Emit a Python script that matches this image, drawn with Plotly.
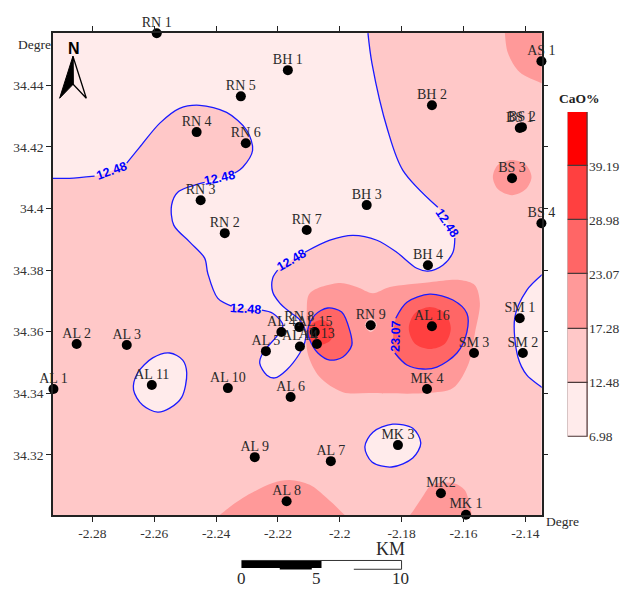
import plotly.graph_objects as go

# ---------- stations ----------
station_names = ["RN 1","AS 1","BH 1","RN 5","BH 2","RN 4","RN 6","BS 1","BS 2","BS 3","RN 3","BH 3","BS 4","RN 2","RN 7","BH 4",
                 "SM 1","AL 2","AL 3","RN 8","AL 4","AL 15","AL 16","RN 9","AL 13","AL 14","AL 5","SM 3","SM 2","AL 11","AL 1",
                 "AL 10","MK 4","AL 6","MK 3","AL 9","AL 7","MK2","AL 8","MK 1"]
station_lon = [-2.2592,-2.1348,-2.2168,-2.2320,-2.1702,-2.2463,-2.2304,-2.1418,-2.1411,-2.1443,-2.2450,-2.1913,-2.1348,-2.2372,-2.2107,-2.1715,
               -2.1418,-2.2851,-2.2689,-2.2131,-2.2189,-2.2081,-2.1702,-2.1900,-2.2074,-2.2129,-2.2239,-2.1566,-2.1408,-2.2608,-2.2926,
               -2.2362,-2.1718,-2.2159,-2.1812,-2.2275,-2.2029,-2.1673,-2.2172,-2.1592]
station_lat = [34.4569,34.4478,34.4449,34.4364,34.4335,34.4248,34.4212,34.4261,34.4264,34.4098,34.4027,34.4011,34.3952,34.3920,34.3930,34.3816,
               34.3644,34.3560,34.3557,34.3615,34.3599,34.3599,34.3618,34.3621,34.3560,34.3552,34.3537,34.3531,34.3531,34.3427,34.3414,
               34.3417,34.3414,34.3388,34.3232,34.3193,34.3180,34.3076,34.3050,34.3006]

# ---------- 12.48 isoline pieces ----------
iso_a_lon = [-2.2929,-2.2874,-2.2793]
iso_a_lat = [34.4098,34.4098,34.4105]
iso_b_lon = [-2.2689,-2.2647,-2.2582,-2.2518,-2.2453,-2.2366,-2.2301,-2.2282,-2.2314,-2.2340]
iso_b_lat = [34.4147,34.4199,34.4277,34.4325,34.4335,34.4312,34.4254,34.4189,34.4134,34.4115]
iso_c_lon = [-2.2437,-2.2524,-2.2544,-2.2537,-2.2485,-2.2437,-2.2427,-2.2395,-2.2350]
iso_c_lat = [34.4085,34.4053,34.4011,34.3946,34.3891,34.3839,34.3790,34.3709,34.3683]
iso_d_lon = [-2.2252,-2.2217,-2.2184,-2.2201,-2.2249,-2.2259,-2.2236,-2.2210,-2.2172,-2.2129,-2.2113,-2.2110,-2.2129,-2.2162,-2.2194,-2.2217,-2.2217,-2.2201]
iso_d_lat = [34.3670,34.3660,34.3622,34.3589,34.3531,34.3498,34.3459,34.3450,34.3476,34.3531,34.3566,34.3596,34.3638,34.3664,34.3693,34.3729,34.3774,34.3800]
iso_e_lon = [-2.2113,-2.2032,-2.1958,-2.1880,-2.1816,-2.1751,-2.1715,-2.1667,-2.1634,-2.1628]
iso_e_lat = [34.3858,34.3897,34.3913,34.3897,34.3858,34.3806,34.3797,34.3816,34.3858,34.3904]
iso_f_lon = [-2.1683,-2.1796,-2.1845,-2.1896,-2.1909]
iso_f_lat = [34.4004,34.4124,34.4254,34.4471,34.4569]
iso_north_lon = [-2.1909,-2.3003,-2.3003]      # closes the northern low area beyond the frame
iso_north_lat = [34.4643,34.4643,34.4098]

al11_lon = [-2.2550,-2.2508,-2.2495,-2.2511,-2.2550,-2.2589,-2.2638,-2.2667,-2.2654,-2.2605]
al11_lat = [34.3531,34.3508,34.3466,34.3388,34.3352,34.3339,34.3362,34.3411,34.3466,34.3515]
mk3_lon = [-2.1829,-2.1764,-2.1738,-2.1764,-2.1832,-2.1896,-2.1919,-2.1893]
mk3_lat = [34.3300,34.3287,34.3239,34.3190,34.3161,34.3177,34.3226,34.3274]
sm_lon = [-2.1304,-2.1347,-2.1395,-2.1434,-2.1424,-2.1395,-2.1347,-2.1304]
sm_lat = [34.3816,34.3784,34.3735,34.3647,34.3518,34.3459,34.3420,34.3385]

# ---------- 17.28 isolines ----------
core_lon = [-2.2000,-2.2097,-2.2107,-2.2104,-2.2065,-2.1990,-2.1903,-2.1718,-2.1634,-2.1583,-2.1563,-2.1547,-2.1563,-2.1612,-2.1709,-2.1838,-2.1893,-2.1945]
core_lat = [34.3758,34.3725,34.3660,34.3531,34.3453,34.3404,34.3401,34.3401,34.3417,34.3498,34.3596,34.3693,34.3751,34.3768,34.3761,34.3745,34.3725,34.3745]
rn9_lon = [-2.1900,-2.1880,-2.1900,-2.1919]
rn9_lat = [34.3645,34.3622,34.3599,34.3622]
bs3_lon = [-2.1443,-2.1398,-2.1380,-2.1398,-2.1443,-2.1489,-2.1505,-2.1489]
bs3_lat = [34.4157,34.4141,34.4102,34.4063,34.4043,34.4063,34.4102,34.4141]
as1_lon = [-2.1466,-2.1466,-2.1456,-2.1418,-2.1346,-2.1288,-2.1288]
as1_lat = [34.4611,34.4569,34.4504,34.4442,34.4406,34.4384,34.4611]
al8_lon = [-2.2437,-2.2388,-2.2314,-2.2217,-2.2162,-2.2097,-2.2042,-2.1984,-2.1935]
al8_lat = [34.2957,34.3005,34.3060,34.3109,34.3119,34.3103,34.3060,34.3005,34.2957]
mk_lon = [-2.1822,-2.1773,-2.1735,-2.1702,-2.1634,-2.1596,-2.1579,-2.1573,-2.1566]
mk_lat = [34.2957,34.3005,34.3060,34.3103,34.3109,34.3086,34.3031,34.3005,34.2957]

# ---------- 23.07 isolines ----------
w23_lon = [-2.2039,-2.1994,-2.1968,-2.1961,-2.1990,-2.2032,-2.2071,-2.2097,-2.2104,-2.2081]
w23_lat = [34.3677,34.3664,34.3605,34.3557,34.3518,34.3508,34.3531,34.3573,34.3605,34.3654]
e23_lon = [-2.1819,-2.1783,-2.1709,-2.1634,-2.1589,-2.1589,-2.1621,-2.1686,-2.1731,-2.1783,-2.1822]
e23_lat = [34.3644,34.3696,34.3722,34.3703,34.3660,34.3599,34.3531,34.3485,34.3479,34.3492,34.3531]

# ---------- 28.98 isolines ----------
w29_lon = [-2.2058,-2.2029,-2.2019,-2.2032,-2.2065,-2.2091,-2.2104,-2.2091]
w29_lat = [34.3638,34.3622,34.3596,34.3570,34.3557,34.3566,34.3596,34.3625]
e29_lon = [-2.1709,-2.1660,-2.1641,-2.1660,-2.1709,-2.1757,-2.1777,-2.1757]
e29_lat = [34.3680,34.3660,34.3612,34.3561,34.3544,34.3561,34.3612,34.3660]

# ---------- contour labels ----------
label_text = ["12.48","12.48","12.48","12.48","12.48","23.07"]
label_lon = [-2.2739,-2.2390,-2.2304,-2.2155,-2.1654,-2.1819]
label_lat = [34.4122,34.4098,34.3673,34.3832,34.3952,34.3586]
label_angle = [-20,-12,4,-30,56,-88]

# ---------- legend ----------
legend_levels = ["6.98","12.48","17.28","23.07","28.98","39.19"]
legend_colors = ["#FFEBEB","#FFC8C8","#FF9999","#FF6666","#FF4040","#FF0000"]
x_ticks = [-2.28,-2.26,-2.24,-2.22,-2.2,-2.18,-2.16,-2.14]
x_ticktext = ["-2.28","-2.26","-2.24","-2.22","-2.2","-2.18","-2.16","-2.14"]
y_ticks = [34.32,34.34,34.36,34.38,34.40,34.42,34.44]
y_ticktext = ["34.32","34.34","34.36","34.38","34.4","34.42","34.44"]

# ---------- page geometry ----------
W, H = 632, 589
ML, MR, MT, MB = 53.4, 32, 32.7, 74
PW, PH = W - ML - MR, H - MT - MB
def px(x): return (x - ML) / PW
def py(y): return (H - MB - y) / PH

SERIF = "Liberation Serif"
SANS = "Liberation Sans"
INK = "#2a2a2a"
BLUE = "#1a1aff"

fig = go.Figure()

def area(lon, lat, color):
    fig.add_trace(go.Scatter(x=lon + lon[:1], y=lat + lat[:1], mode="lines", fill="toself", fillcolor=color,
                             line=dict(width=0, color=color, shape="spline", smoothing=0.9),
                             hoverinfo="skip", showlegend=False))

def isoline(lon, lat):
    fig.add_trace(go.Scatter(x=lon, y=lat, mode="lines",
                             line=dict(width=1.3, color=BLUE, shape="spline", smoothing=0.9),
                             hoverinfo="skip", showlegend=False))

north_lon = iso_a_lon + iso_b_lon + iso_c_lon + iso_d_lon + iso_e_lon + iso_f_lon + iso_north_lon
north_lat = iso_a_lat + iso_b_lat + iso_c_lat + iso_d_lat + iso_e_lat + iso_f_lat + iso_north_lat

area(north_lon, north_lat, legend_colors[0])
area(al11_lon, al11_lat, legend_colors[0])
area(mk3_lon, mk3_lat, legend_colors[0])
area(sm_lon, sm_lat, legend_colors[0])

area(core_lon, core_lat, legend_colors[2])
area(bs3_lon, bs3_lat, legend_colors[2])
area(as1_lon, as1_lat, legend_colors[2])
area(al8_lon, al8_lat, legend_colors[2])
area(mk_lon, mk_lat, legend_colors[2])
area(rn9_lon, rn9_lat, legend_colors[1])

area(w23_lon, w23_lat, legend_colors[3])
area(e23_lon, e23_lat, legend_colors[3])
area(w29_lon, w29_lat, legend_colors[4])
area(e29_lon, e29_lat, legend_colors[4])

for lo, la in [(iso_a_lon, iso_a_lat), (iso_b_lon, iso_b_lat), (iso_c_lon, iso_c_lat), (iso_d_lon, iso_d_lat),
               (iso_e_lon, iso_e_lat), (iso_f_lon, iso_f_lat), (sm_lon, sm_lat), (e23_lon, e23_lat)]:
    isoline(lo, la)
for lo, la in [(al11_lon, al11_lat), (mk3_lon, mk3_lat), (w23_lon, w23_lat)]:
    isoline(lo + lo[:1], la + la[:1])

fig.add_trace(go.Scatter(x=station_lon, y=station_lat, mode="markers", cliponaxis=False,
                         marker=dict(size=10, color="black"), hoverinfo="skip", showlegend=False))
# the labels sit on a small marker hidden under the big dot, which brings them closer to the dot
fig.add_trace(go.Scatter(x=station_lon, y=station_lat, mode="markers+text", text=station_names,
                         textposition="top center", cliponaxis=False,
                         textfont=dict(family=SERIF, size=14, color=INK),
                         marker=dict(size=3, color="black"), hoverinfo="text", showlegend=False))

# legend bar drawn as a stacked bar on its own axes
fig.add_trace(go.Bar(x=["CaO%"] * 6, y=[1] * 6, base=list(range(6)), marker=dict(color=legend_colors, line=dict(color="#4a3a3a", width=1.2)),
                     width=1, xaxis="x2", yaxis="y2", hoverinfo="skip", showlegend=False))

axis_common = dict(showgrid=False, zeroline=False, showline=True, linecolor="#222222", linewidth=1.5, mirror="ticks",
                   ticks="outside", ticklen=5, tickwidth=1, tickcolor="#222222",
                   tickfont=dict(family=SERIF, size=13.5, color="#333333"))

shapes = [
    # north arrow
    dict(type="path", xref="paper", yref="paper", line=dict(color="black", width=1), fillcolor="black",
         path=f"M {px(73.3)} {py(56)} L {px(60)} {py(98)} L {px(73.5)} {py(84)} Z"),
    dict(type="path", xref="paper", yref="paper", line=dict(color="black", width=1.3), fillcolor="rgba(0,0,0,0)",
         path=f"M {px(73.3)} {py(56)} L {px(86.7)} {py(98)} L {px(73.5)} {py(84)} Z"),
    # scale bar
    dict(type="rect", xref="paper", yref="paper", x0=px(241.7), x1=px(321.7), y0=py(561), y1=py(568), fillcolor="black", line=dict(width=0)),
    dict(type="rect", xref="paper", yref="paper", x0=px(280), x1=px(312), y0=py(568), y1=py(569.5), fillcolor="black", line=dict(width=0)),
    dict(type="line", xref="paper", yref="paper", x0=px(241.7), x1=px(401.7), y0=py(560.5), y1=py(560.5), line=dict(color="#333333", width=1)),
    dict(type="line", xref="paper", yref="paper", x0=px(401.7), x1=px(401.7), y0=py(560.5), y1=py(569.3), line=dict(color="#333333", width=1)),
    dict(type="line", xref="paper", yref="paper", x0=px(354), x1=px(401.7), y0=py(569.3), y1=py(569.3), line=dict(color="#333333", width=1)),
]

def note(text, x, y, size, family=SERIF, color=INK, bold=False):
    return dict(text=f"<b>{text}</b>" if bold else text, xref="paper", yref="paper", x=px(x), y=py(y),
                xanchor="center", yanchor="middle", showarrow=False, font=dict(family=family, size=size, color=color))

annotations = [
    note("Degre", 35, 44.5, 13.5), note("Degre", 563, 522, 13.5),
    note("N", 74, 48, 16, family=SANS, color="black", bold=True),
    note("CaO%", 580, 98, 13.5, color="#222222", bold=True),
    note("KM", 391, 549, 18), note("0", 241.7, 579, 17), note("5", 316.3, 579, 17), note("10", 401, 579, 17),
]
for t, lo, la, ang in zip(label_text, label_lon, label_lat, label_angle):
    annotations.append(dict(text=f"<b>{t}</b>", x=lo, y=la, xref="x", yref="y", textangle=ang, showarrow=False,
                            xanchor="center", yanchor="middle", font=dict(family=SANS, size=12.5, color="#0000ff")))

fig.update_layout(
    width=W, height=H, margin=dict(l=ML, r=MR, t=MT, b=MB, pad=0),
    paper_bgcolor="white", plot_bgcolor=legend_colors[1], showlegend=False, bargap=0, barmode="overlay",
    xaxis=dict(domain=[0, (541.7 - ML) / PW], range=[-2.29275, -2.13472], tickvals=x_ticks, ticktext=x_ticktext, **axis_common),
    yaxis=dict(domain=[0, 1], range=[34.30052, 34.45696], tickvals=y_ticks, ticktext=y_ticktext, **axis_common),
    xaxis2=dict(domain=[px(567.7), px(588)], anchor="y2", showticklabels=False, ticks="", showgrid=False, zeroline=False, fixedrange=True),
    yaxis2=dict(domain=[py(436.7), py(111.7)], anchor="x2", side="right", range=[0, 6], tickvals=list(range(6)), ticktext=legend_levels,
                ticks="", showgrid=False, zeroline=False, showline=False, tickfont=dict(family=SERIF, size=13.5, color="#333333")),
    shapes=shapes, annotations=annotations,
)
fig.update_layout(yaxis2_position=px(588))

fig.write_html("out.html", config=dict(displayModeBar=False), post_script="document.body.style.margin='0';")
